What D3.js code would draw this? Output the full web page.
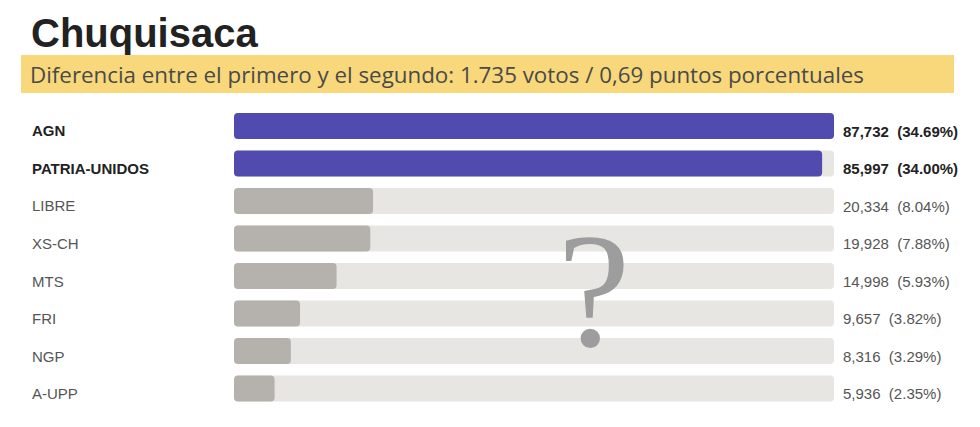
<!DOCTYPE html>
<html><head><meta charset="utf-8">
<script src="https://cdn.jsdelivr.net/npm/d3@7"></script>
<style>
html,body{margin:0;padding:0;background:#fff;}
svg{display:block;}
</style></head>
<body>
<svg id="chart" width="980" height="427"></svg>
<script>
const titleText = "Chuquisaca";
const subtitleText = "Diferencia entre el primero y el segundo: 1.735 votos / 0,69 puntos porcentuales";
const parties = ["AGN","PATRIA-UNIDOS","LIBRE","XS-CH","MTS","FRI","NGP","A-UPP"];
const votes = [87732, 85997, 20334, 19928, 14998, 9657, 8316, 5936];
const percents = [34.69, 34.00, 8.04, 7.88, 5.93, 3.82, 3.29, 2.35];
const leaders = ["AGN","PATRIA-UNIDOS"];

const data = parties.map((p,i)=>({party:p, votes:votes[i], pct:percents[i], lead:leaders.includes(p)}));

const svg = d3.select("#chart");

// Title
svg.append("text").attr("x",31).attr("y",47)
  .attr("font-family","'Liberation Sans', Arial, sans-serif").attr("font-weight","bold")
  .attr("font-size",40).attr("fill","#222").text(titleText);

// Subtitle band
svg.append("rect").attr("x",21).attr("y",55).attr("width",933).attr("height",38).attr("fill","#f8d87a");
svg.append("text").attr("x",30).attr("y",82.5)
  .attr("font-family","'Open Sans', sans-serif").attr("font-size",22)
  .attr("textLength",834).attr("lengthAdjust","spacingAndGlyphs")
  .attr("fill","#4a4a4a").text(subtitleText);

const x = d3.scaleLinear().domain([0, d3.max(votes)]).range([234, 834]);
const y = d3.scaleBand().domain(parties).range([107.25, 407.25]).paddingInner(0.3067).paddingOuter(0.1533);

const rows = svg.append("g").selectAll("g").data(data).join("g");

rows.append("rect").attr("x",x(0)).attr("y",d=>y(d.party))
  .attr("width",x.range()[1]-x(0)).attr("height",y.bandwidth())
  .attr("rx",4).attr("fill","#e8e6e2");

rows.append("rect").attr("x",x(0)).attr("y",d=>y(d.party))
  .attr("width",d=>x(d.votes)-x(0)).attr("height",y.bandwidth())
  .attr("rx",4).attr("fill",d=>d.lead?"#514bb0":"#b5b2ad");

rows.append("text").attr("x",32).attr("y",d=>y(d.party)+y.bandwidth()/2+10.5)
  .attr("font-family","'Liberation Sans', Arial, sans-serif").attr("font-size",15)
  .attr("font-weight",d=>d.lead?"bold":"normal")
  .attr("fill",d=>d.lead?"#222":"#555").text(d=>d.party);

const fmt = d3.format(",");
rows.append("text").attr("x",843).attr("y",d=>y(d.party)+y.bandwidth()/2+10.8)
  .attr("font-family","'Liberation Sans', Arial, sans-serif").attr("font-size",15)
  .attr("font-weight",d=>d.lead?"bold":"normal")
  .attr("fill",d=>d.lead?"#222":"#555")
  .attr("xml:space","preserve").style("white-space","pre")
  .text(d=>fmt(d.votes)+"  ("+d.pct.toFixed(2)+"%)");

// Question mark overlay
svg.append("text").attr("x",594).attr("y",346).attr("text-anchor","middle")
  .attr("font-family","'Liberation Serif', 'DejaVu Serif', serif").attr("font-size",164)
  .attr("fill","#9d9d9d").text("?");
</script>
</body></html>
